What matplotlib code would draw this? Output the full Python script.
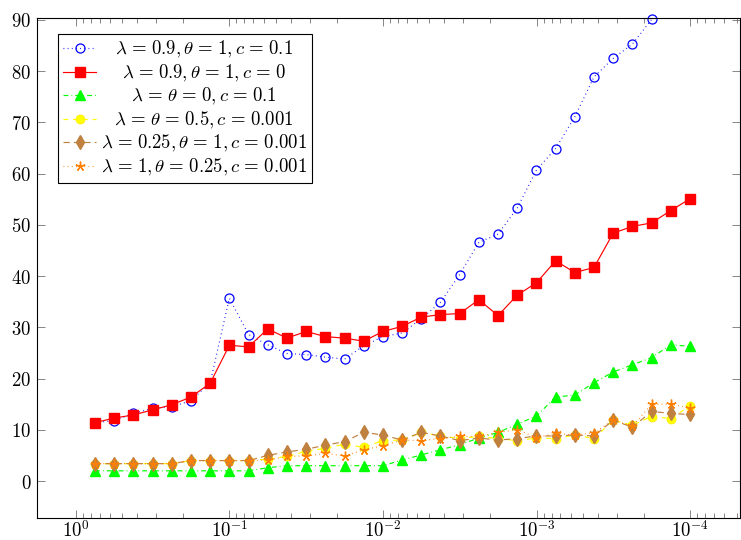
import matplotlib
matplotlib.use('Agg')
import matplotlib.pyplot as plt
import numpy as np
from matplotlib.ticker import LogLocator, NullFormatter

# ---------------- data ----------------
x_vals = [0.75, 0.5625, 0.421875, 0.31641, 0.23730, 0.17798, 0.13348, 0.10011,
          0.075085, 0.056314, 0.042235, 0.031676, 0.023757, 0.017818, 0.013363, 0.010023,
          0.0075169, 0.0056377, 0.0042283, 0.0031712, 0.0023784, 0.0017838, 0.0013379, 0.0010034,
          0.00075254, 0.00056441, 0.00042331, 0.00031748, 0.00023811, 0.00017858, 0.00013394, 0.00010045]

blue_vals = [11.4, 11.8, 13.2, 14.2, 14.5, 15.7, 19.2, 35.7, 28.6, 26.6, 24.9, 24.7, 24.2, 23.8, 26.4, 28.2,
             28.9, 31.7, 34.9, 40.3, 46.6, 48.2, 53.3, 60.7, 64.9, 71.1, 78.9, 82.5, 85.3, 90.1]
red_vals = [11.4, 12.3, 12.9, 13.9, 14.9, 16.4, 19.1, 26.5, 26.2, 29.7, 27.9, 29.2, 28.2, 27.9, 27.3, 29.2,
            30.2, 32.0, 32.5, 32.7, 35.4, 32.3, 36.3, 38.7, 43.0, 40.7, 41.7, 48.4, 49.7, 50.4, 52.8, 55.1]
green_vals = [2.0, 2.0, 2.0, 2.0, 2.0, 2.0, 2.0, 2.0, 2.0, 2.6, 3.0, 3.0, 3.0, 3.0, 3.0, 3.0,
              4.1, 5.1, 6.1, 7.1, 8.4, 9.5, 11.1, 12.7, 16.4, 16.8, 19.2, 21.3, 22.7, 24.1, 26.6, 26.3]
yellow_vals = [3.4, 3.4, 3.4, 3.4, 3.4, 4.0, 4.0, 4.0, 4.0, 4.3, 4.8, 5.8, 6.4, 7.2, 6.6, 7.9,
               8.0, 9.5, 8.8, 8.3, 8.7, 8.3, 7.9, 8.4, 8.3, 9.0, 8.3, 11.9, 10.9, 12.6, 12.2, 14.7]
brown_vals = [3.4, 3.4, 3.4, 3.4, 3.4, 4.0, 4.0, 4.0, 4.0, 5.0, 5.7, 6.2, 7.0, 7.7, 9.5, 9.0,
              8.0, 9.5, 8.8, 7.9, 8.4, 8.0, 8.3, 8.8, 8.8, 9.0, 8.8, 11.9, 10.5, 13.6, 13.2, 13.0]
orange_vals = [3.4, 3.4, 3.4, 3.4, 3.4, 4.0, 4.0, 4.0, 4.0, 4.1, 4.8, 4.9, 5.4, 4.9, 6.1, 6.9,
               8.0, 7.9, 8.3, 8.7, 8.7, 9.5, 10.0, 8.5, 9.3, 9.0, 9.4, 11.9, 10.7, 15.0, 15.0, 14.3]

labels = [r'$\lambda=0.9,\theta=1,c=0.1$',
          r'$\lambda=0.9,\theta=1,c=0$',
          r'$\lambda=\theta=0,c=0.1$',
          r'$\lambda=\theta=0.5,c=0.001$',
          r'$\lambda=0.25,\theta=1,c=0.001$',
          r'$\lambda=1,\theta=0.25,c=0.001$']

x_tick_vals = [1, 0.1, 0.01, 0.001, 0.0001]
x_tick_labels = [r'$10^{0}$', r'$10^{-1}$', r'$10^{-2}$', r'$10^{-3}$', r'$10^{-4}$']
y_tick_vals = [0, 10, 20, 30, 40, 50, 60, 70, 80, 90]

# ---------------- style ----------------
plt.rcParams['mathtext.fontset'] = 'cm'
plt.rcParams['lines.scale_dashes'] = False
FS = 13.5

# TeX-like spacing around relations
disp_labels = [lab.replace('=', r'\hspace{0.12}=\hspace{0.12}') for lab in labels]

fig = plt.figure(figsize=(7.41, 5.40), dpi=100)
ax = fig.add_axes([37 / 741, 22 / 540, 703 / 741, 500 / 540])

lw = 0.85
ax.plot(x_vals[:len(blue_vals)], blue_vals, color='#0000FF', lw=lw, ls=(0, (0.6, 2.4)),
        marker='o', ms=6.5, mfc='none', mec='#0000FF', mew=0.9, label=disp_labels[0], clip_on=False)
ax.plot(x_vals, red_vals, color='#FF0000', lw=lw, ls='-',
        marker='s', ms=7, mfc='#FF0000', mec='#FF0000', label=disp_labels[1])
ax.plot(x_vals, green_vals, color='#00FF00', lw=lw, ls=(0, (3.5, 2.2, 0.6, 2.2)),
        marker='^', ms=6.5, mfc='#00FF00', mec='#00FF00', label=disp_labels[2])
ax.plot(x_vals, yellow_vals, color='#FFFF00', lw=lw, ls=(0, (3.5, 3.5)),
        marker='o', ms=6.5, mfc='#FFFF00', mec='#FFE800', mew=0.5, label=disp_labels[3])
ax.plot(x_vals, brown_vals, color='#BF8040', lw=lw, ls=(0, (4.5, 3)),
        marker='d', ms=7, mfc='#BF8040', mec='#BF8040', label=disp_labels[4])
ax.plot(x_vals, orange_vals, color='#FF8000', lw=lw, ls=(0, (0.6, 2.4)),
        marker=(5, 2, 0), ms=7, mfc='#FF8000', mec='#FF8000', mew=1.0, label=disp_labels[5])

ax.set_xscale('log')
ax.set_xlim(1.789, 4.746e-5)
ax.set_ylim(-7.21, 90.39)
ax.set_xticks(x_tick_vals)
ax.set_xticklabels(x_tick_labels)
ax.xaxis.set_minor_locator(LogLocator(base=10, subs=np.arange(2, 10)))
ax.xaxis.set_minor_formatter(NullFormatter())
ax.set_yticks(y_tick_vals)
ax.set_yticklabels([r'$%d$' % v for v in y_tick_vals])

ax.tick_params(which='both', direction='in', top=True, right=True, color='0.45', width=0.6,
               labelsize=FS)
ax.tick_params(which='major', length=5.5)
ax.tick_params(which='minor', length=3.8)
ax.tick_params(axis='y', which='major', pad=4)
ax.tick_params(axis='x', which='major', pad=1.5)
for s in ax.spines.values():
    s.set_linewidth(0.8)
    s.set_color('black')

leg = ax.legend(loc='upper left', bbox_to_anchor=(21 / 703, 1 - 16 / 500), borderaxespad=0,
                fancybox=False, edgecolor='black', framealpha=1, fontsize=FS,
                handlelength=1.75, handletextpad=0.25, labelspacing=0.13, borderpad=0.28)
leg.get_frame().set_linewidth(0.8)

# center legend labels like pgfplots
fig.canvas.draw()
r = fig.canvas.get_renderer()
texts = leg.get_texts()
widths = [t.get_window_extent(r).width for t in texts]
probe = fig.text(0, 0, r'$\hspace{10}x$', fontsize=FS)
probe2 = fig.text(0, 0, r'$x$', fontsize=FS)
unit = (probe.get_window_extent(r).width - probe2.get_window_extent(r).width) / 10.0
probe.remove(); probe2.remove()
wmax = max(widths)
right_extra = 5.0 / unit
for t, w, lab in zip(texts, widths, disp_labels):
    pad = (wmax - w) / 2.0 / unit
    t.set_text(r'$\hspace{%.3f}' % pad + lab[1:-1] + r'\hspace{%.3f}$' % (pad + right_extra))

fig.savefig('out.png', dpi=100)
